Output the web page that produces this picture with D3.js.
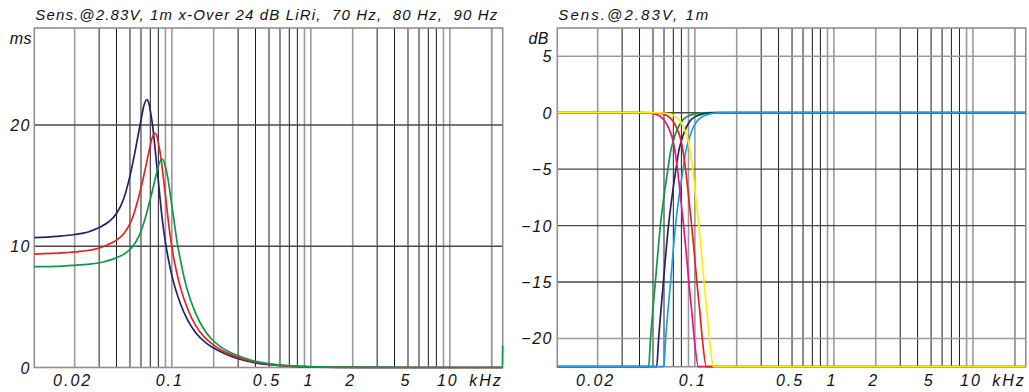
<!DOCTYPE html>
<html><head><meta charset="utf-8">
<script src="https://cdn.jsdelivr.net/npm/d3@7"></script>
<style>
html,body{margin:0;padding:0;background:#fff;}
svg text{font-family:"Liberation Sans",Arial,sans-serif;font-style:italic;fill:#111;}
</style></head>
<body><svg id="c" width="1029" height="392"></svg>
<script>
// ---------- data ----------
const leftTitle = "Sens.@2.83V, 1m x-Over 24 dB LiRi,  70 Hz,  80 Hz,  90 Hz";
const rightTitle = "Sens.@2.83V, 1m";
const freqTickValues = [20, 100, 500, 1000, 2000, 5000, 10000];
const freqTickLabels = ["0.02", "0.1", "0.5", "1", "2", "5", "10"];
const msTicks = [0, 10, 20];
const dbTicks = [5, 0, -5, -10, -15, -20];

// group delay (Hz, ms)
const delay70 = [[10,10.70],[15,10.82],[20,10.97],[25,11.18],[30,11.55],[35,12.0],[40,12.7],[45,13.9],[50,15.8],[55,18.1],[60,20.4],[63,21.6],[66,22.1],[68,21.9],[70,21.2],[73,19.8],[76,17.9],[80,15.4],[85,12.4],[90,10.3],[95,8.8],[100,7.6],[115,5.3],[130,3.9],[150,2.8],[175,2.05],[200,1.6],[250,1.05],[300,0.72],[400,0.38],[500,0.23],[700,0.11],[1000,0.05],[2000,0.012],[5000,0.002],[24000,0]];
const delay80 = [[10,9.35],[17.1,9.47],[22.9,9.60],[28.6,9.78],[34.3,10.11],[40,10.5],[45.7,11.11],[51.4,12.16],[57.1,13.83],[62.9,15.84],[68.6,17.85],[72,18.9],[75.4,19.34],[77.7,19.16],[80,18.55],[83.4,17.33],[86.9,15.66],[91.4,13.48],[97.1,10.95],[102.9,9.1],[108.6,7.8],[114.3,6.75],[131.4,4.7],[148.6,3.45],[171.4,2.5],[200,1.85],[228.6,1.42],[285.7,0.92],[342.9,0.63],[457,0.33],[571,0.2],[800,0.096],[1143,0.044],[2286,0.01],[5714,0.002],[24000,0]];
const delay90 = [[10,8.32],[12.9,8.32],[19.3,8.42],[25.7,8.53],[32.1,8.70],[38.6,8.98],[45,9.33],[51.4,9.88],[57.9,10.81],[64.3,12.29],[70.7,14.08],[77.1,15.87],[81,16.8],[84.9,17.19],[87.4,17.03],[90,16.55],[93.9,15.55],[97.7,14.2],[102.9,12.4],[109.3,10.3],[115.7,8.8],[122.1,7.5],[128.6,6.5],[147.9,4.5],[167.1,3.3],[192.9,2.35],[225,1.7],[257.1,1.3],[321.4,0.85],[385.7,0.56],[514.3,0.30],[642.9,0.18],[900,0.086],[1286,0.039],[2571,0.009],[6429,0.0016],[23900,0],[24000,1.8]];

// sensitivity (Hz, dB) high-pass
const hp70 = [[10,-22.5],[46.5,-22.5],[48,-20],[52,-15],[56.5,-10],[60,-7.4],[64,-5],[67,-3.4],[70,-2.5],[74,-1.6],[80,-0.8],[88,-0.35],[100,-0.1],[115,-0.02],[130,0],[24000,0]];
const hp80 = [[10,-22.5],[53.1,-22.5],[54.9,-20],[59.4,-15],[64.6,-10],[68.6,-7.4],[73.1,-5],[76.6,-3.4],[80,-2.5],[84.6,-1.6],[91.4,-0.8],[100.6,-0.35],[114.3,-0.1],[131.4,-0.02],[148.6,0],[24000,0]];
const hp90 = [[10,-22.5],[59.8,-22.5],[61.7,-20],[66.9,-15],[72.6,-10],[77.1,-7.4],[82.3,-5],[86.1,-3.4],[90,-2.5],[95.1,-1.6],[102.9,-0.8],[113.1,-0.35],[128.6,-0.1],[147.9,-0.02],[167.1,0],[24000,0]];
// low-pass
const lp70 = [[10,0],[40,0],[48,-0.05],[55,-0.25],[60,-0.65],[65,-1.4],[70,-2.6],[75,-5],[79,-7.5],[83,-10],[87,-12.6],[90.5,-15],[95,-17.6],[99,-20],[106,-22.5],[24000,-22.5]];
const lp80 = [[10,0],[45.7,0],[54.9,-0.05],[62.9,-0.25],[68.6,-0.65],[74.3,-1.4],[80,-2.6],[85.7,-5],[90.3,-7.5],[94.9,-10],[99.4,-12.6],[103.4,-15],[108.6,-17.6],[113.1,-20],[121.1,-22.5],[24000,-22.5]];
const lp90 = [[10,0],[51.4,0],[61.7,-0.05],[70.7,-0.25],[77.1,-0.65],[83.6,-1.4],[90,-2.6],[96.4,-5],[101.6,-7.5],[106.7,-10],[111.9,-12.6],[116.4,-15],[122.1,-17.6],[127.3,-20],[136.3,-22.5],[24000,-22.5]];

// ---------- drawing ----------
const svg = d3.select("#c");
const C = {navy:"#26206f", red:"#e8231e", green:"#0d9a48", pink:"#e4177c", yellow:"#fff000", blue:"#1aa0e2"};
const fMin = 10.25, fMax = 24000;

function minorFreqs(){
  const out=[];
  for (let d=10; d<=10000; d*=10) for (let m=1; m<=9; m++){ const f=m*d; if (f>fMin && f<fMax) out.push({f, m}); }
  out.push({f:20000, m:2});
  return out;
}

let clipId = 0;
function panel(opts){
  const g = svg.append("g");
  const x = d3.scaleLog().domain([fMin, fMax]).range([opts.x0, opts.x1]);
  const y = d3.scaleLinear().domain(opts.ydom).range([opts.y1, opts.y0]);
  const cid = "clip"+(clipId++);
  svg.append("clipPath").attr("id", cid).append("rect")
    .attr("x", opts.x0).attr("y", opts.y0-2).attr("width", opts.x1-opts.x0+1).attr("height", opts.y1-opts.y0+4);
  // vertical grid
  g.selectAll("line.v").data(minorFreqs()).join("line")
    .attr("x1", d=>x(d.f)).attr("x2", d=>x(d.f))
    .attr("y1", opts.y0).attr("y2", opts.y1)
    .attr("stroke", d=> (d.m===1||d.m===2||d.m===9) ? "#9a9a9a" : "#1c1c1c")
    .attr("stroke-width", d=> (d.m===1||d.m===2||d.m===9) ? 1.6 : 1);
  // horizontal grid
  g.selectAll("line.h").data(opts.yticks.filter(v=>v!==opts.ydom[0])).join("line")
    .attr("x1", opts.x0).attr("x2", opts.x1)
    .attr("y1", d=>y(d)).attr("y2", d=>y(d))
    .attr("stroke", d=> opts.lightH && opts.lightH.includes(d) ? "#9a9a9a" : "#4a4a4a")
    .attr("stroke-width", 1.4);
  // frame
  g.append("rect").attr("x", opts.x0).attr("y", opts.y0)
    .attr("width", opts.x1-opts.x0).attr("height", opts.y1-opts.y0)
    .attr("fill","none").attr("stroke","#8f8f8f").attr("stroke-width",1.6);
  // curves
  const line = d3.line().x(d=>x(d[0])).y(d=>y(d[1])).curve(d3.curveMonotoneX);
  const cg = g.append("g").attr("clip-path", `url(#${cid})`);
  opts.series.forEach(s=>{
    cg.append("path").datum(s.data).attr("d", line)
      .attr("fill","none").attr("stroke", s.color).attr("stroke-width", 1.7)
      .attr("stroke-linejoin","round");
  });
  // y labels
  g.selectAll("text.yl").data(opts.yticks).join("text")
    .attr("x", opts.ylabelX).attr("y", d=>y(d)+6)
    .attr("text-anchor","end").attr("font-size",16).attr("letter-spacing",1.5)
    .text(d=> d<0 ? "\u2212"+Math.abs(d) : String(d));
  g.append("text").attr("x", opts.unitX).attr("y", 44).attr("text-anchor","end")
    .attr("font-size",16).attr("letter-spacing",0.5).text(opts.unit);
  // x labels
  g.selectAll("text.xl").data(freqTickValues).join("text")
    .attr("x", d=>x(d)-2).attr("y", 386).attr("text-anchor","middle")
    .attr("font-size",16).attr("letter-spacing",2)
    .text((d,i)=>freqTickLabels[i]);
  g.append("text").attr("x", opts.x1).attr("y", 386).attr("text-anchor","end")
    .attr("font-size",16).attr("letter-spacing",2).text("kHz");
  // title
  g.append("text").attr("x", opts.x0+1).attr("y", 20).attr("font-size",15)
    .attr("textLength", opts.titleLen).attr("lengthAdjust","spacing")
    .attr("xml:space","preserve").style("white-space","pre").text(opts.title);
}

panel({x0:34.3, x1:502.7, y0:28, y1:367.5, ydom:[0,28], yticks:msTicks,
  ylabelX:31, unitX:32, unit:"ms", title:leftTitle, titleLen:462,
  series:[{data:delay70,color:C.navy},{data:delay80,color:C.red},{data:delay90,color:C.green}]});

panel({x0:557.3, x1:1025.8, y0:28, y1:366.7, ydom:[-22.5,7.5], yticks:dbTicks,
  ylabelX:553, unitX:549, unit:"dB", title:rightTitle, titleLen:150, lightH:[5,-20],
  series:[{data:hp70,color:C.green},{data:hp80,color:C.navy},{data:hp90,color:C.blue},
          {data:lp70,color:C.pink},{data:lp80,color:C.red},{data:lp90,color:C.yellow}]});
</script></body></html>
